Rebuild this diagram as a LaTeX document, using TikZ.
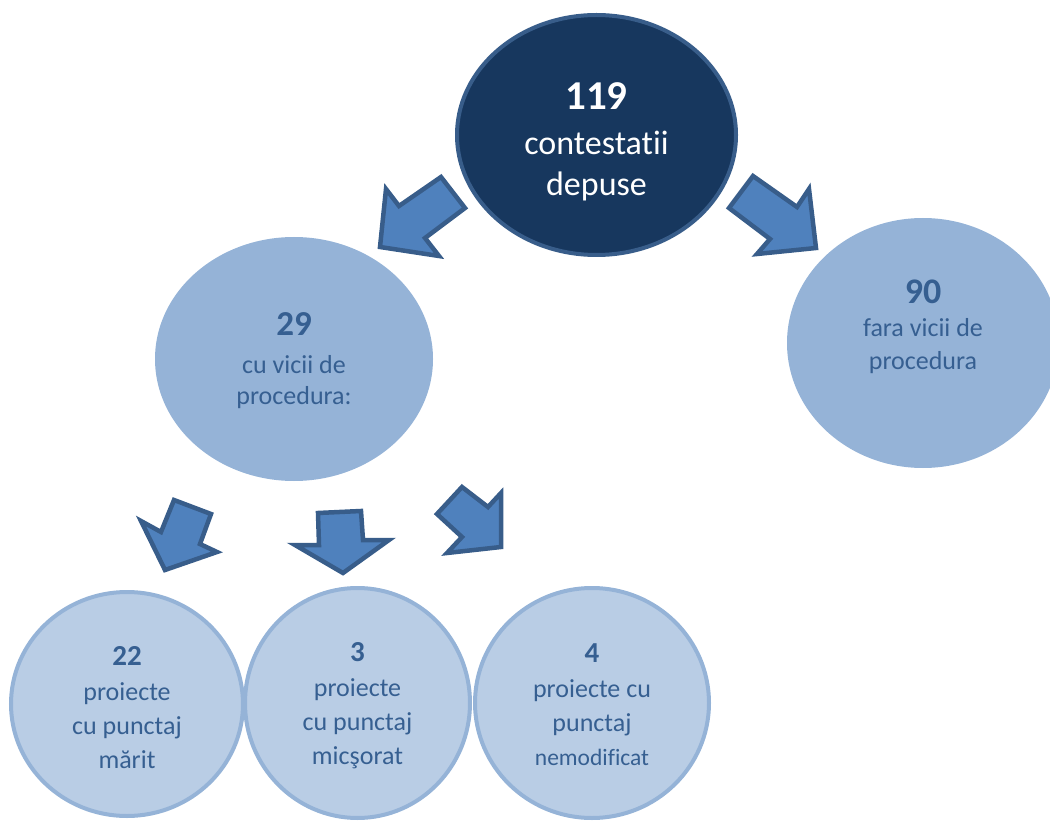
\documentclass[tikz,border=0pt]{standalone}
\usepackage{fontspec}
\setmainfont{Carlito}[Ligatures={NoCommon}]
\usetikzlibrary{shapes.geometric}
\definecolor{topfill}{HTML}{17375E}
\definecolor{topline}{HTML}{385D8A}
\definecolor{midfill}{HTML}{95B3D7}
\definecolor{lowfill}{HTML}{B9CDE5}
\definecolor{txtblue}{HTML}{365F91}
\definecolor{arrfill}{HTML}{4F81BD}
\definecolor{arrline}{HTML}{385D8A}
\tikzset{
  topnode/.style={ellipse, fill=topfill, draw=topline, line width=4pt, inner sep=0pt},
  midnode/.style={ellipse, fill=midfill, inner sep=0pt},
  lownode/.style={ellipse, fill=lowfill, draw=midfill, line width=4pt, inner sep=0pt},
  toptext/.style={text=white, align=center, inner sep=0pt, font=\fontsize{34}{41}\selectfont},
  midtext/.style={text=txtblue, align=center, inner sep=0pt, font=\fontsize{26}{31.5}\selectfont},
  lowtext/.style={text=txtblue, align=center, inner sep=0pt, font=\fontsize{26}{34}\selectfont},
  blockarrow/.style={fill=arrfill, draw=arrline, line width=4.5pt, line join=miter}
}
\begin{document}
\begin{tikzpicture}[x=1pt, y=-1pt]
\useasboundingbox (0,0) rectangle (1050,821);
% second level
\node[midnode, minimum width=278pt, minimum height=244pt] (vicii) at (294,359) {};
\node[midtext] (viciit) at ([yshift=-2pt]vicii.center)
  {{\fontsize{35}{40}\selectfont\bfseries 29}\\[6pt] cu vicii de\\ procedura:};
\node[midnode, minimum width=272pt, minimum height=250pt] (fara) at (923,343) {};
\node[midtext, font=\fontsize{26}{33}\selectfont] (farat) at ([yshift=16pt]fara.center)
  {{\fontsize{36}{40}\selectfont\bfseries 90}\\[0pt] fara vicii de\\ procedura};
% third level
\node[lownode, minimum width=232pt, minimum height=224pt] (marit) at (127,704) {};
\node[lowtext] (maritt) at ([yshift=-4pt]marit.center)
  {{\fontsize{29}{34}\selectfont\bfseries 22}\\[1pt] proiecte\\ cu punctaj\\ mărit};
\node[lownode, minimum width=225pt, minimum height=230pt] (micsorat) at (357.5,703) {};
\node[lowtext] (micsoratt) at ([yshift=-3pt]micsorat.center)
  {{\fontsize{29}{34}\selectfont\bfseries 3}\\[1pt] proiecte\\ cu punctaj\\ micşorat};
\node[lownode, minimum width=234pt, minimum height=230pt] (nemod) at (592,703) {};
\node[lowtext] (nemodt) at ([yshift=-2pt]nemod.center)
  {{\fontsize{29}{34}\selectfont\bfseries 4}\\[1pt] proiecte cu\\ punctaj\\ {\fontsize{23.5}{32}\selectfont nemodificat}};
% block arrows
\draw[blockarrow] (441,177) -- (465,208) -- (425,238) -- (439,256) -- (380,247)
  -- (386,189) -- (399,206) -- cycle;
\draw[blockarrow] (729,208) -- (753,176) -- (797,207) -- (809,189) -- (816,248)
  -- (757,254) -- (770,239) -- cycle;
\draw[blockarrow] (174,500) -- (211,514) -- (200,544) -- (217,552) -- (165,570)
  -- (141,521) -- (161,532) -- cycle;
\draw[blockarrow] (318,513) -- (361,511) -- (363,540) -- (389,540) -- (343,573)
  -- (295,545) -- (319,545) -- cycle;
\draw[blockarrow] (462,487) -- (488,507) -- (501,493) -- (501,547) -- (447,553)
  -- (462,537) -- (437,514) -- cycle;
% top
\node[topnode, minimum width=279pt, minimum height=240pt] (total) at (596.5,135) {};
\node[toptext] (totalt) at ([yshift=-7pt]total.center)
  {{\fontsize{41}{46}\selectfont\bfseries 119}\\[4pt] contestatii\\ depuse};
\end{tikzpicture}
\end{document}
